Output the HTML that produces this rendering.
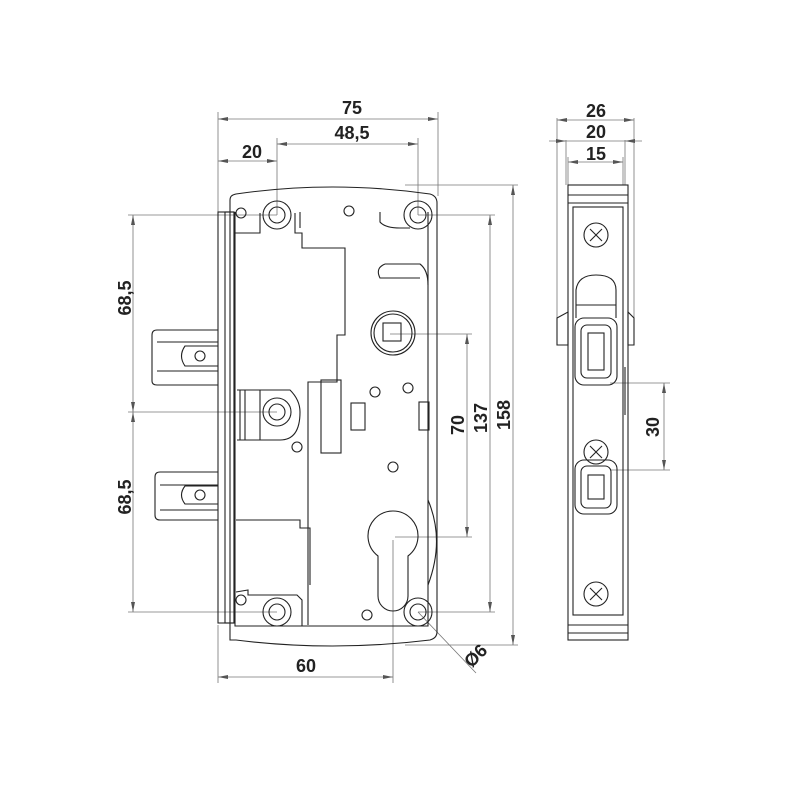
<!DOCTYPE html>
<html><head><meta charset="utf-8"><style>
html,body{margin:0;padding:0;background:#fff}
svg{display:block}
text{font-family:"Liberation Sans",Arial,sans-serif;font-weight:bold;font-size:18px;fill:#222}
</style></head><body>
<svg width="800" height="800" viewBox="0 0 800 800" xmlns="http://www.w3.org/2000/svg">
<defs>
<marker id="a" viewBox="0 0 10 6" refX="10" refY="3" markerWidth="10" markerHeight="6" orient="auto-start-reverse" markerUnits="userSpaceOnUse"><path d="M0,1 L10,3 L0,5z" fill="#555"/></marker>
</defs>
<g fill="none" stroke="#777" stroke-width="0.8">
<line x1="218" y1="112" x2="218" y2="212"/><line x1="438" y1="112" x2="438" y2="196"/>
<line x1="277" y1="138" x2="277" y2="215"/><line x1="418" y1="138" x2="418" y2="215"/>
<line x1="128" y1="215" x2="277" y2="215"/><line x1="128" y1="412" x2="277" y2="412"/><line x1="128" y1="612" x2="277" y2="612"/>
<line x1="405" y1="185" x2="518" y2="185"/><line x1="418" y1="215" x2="495" y2="215"/>
<line x1="390" y1="334" x2="472" y2="334"/><line x1="395" y1="537" x2="472" y2="537"/>
<line x1="418" y1="612" x2="495" y2="612"/><line x1="405" y1="645" x2="518" y2="645"/>
<line x1="218" y1="625" x2="218" y2="683"/><line x1="393" y1="540" x2="393" y2="683"/>
<line x1="418" y1="612" x2="476" y2="673"/>
<line x1="218" y1="119" x2="438" y2="119" marker-start="url(#a)" marker-end="url(#a)"/>
<line x1="277" y1="144" x2="418" y2="144" marker-start="url(#a)" marker-end="url(#a)"/>
<line x1="218" y1="161" x2="277" y2="161" marker-start="url(#a)" marker-end="url(#a)"/>
<line x1="133" y1="215" x2="133" y2="412" marker-start="url(#a)" marker-end="url(#a)"/>
<line x1="133" y1="412" x2="133" y2="612" marker-start="url(#a)" marker-end="url(#a)"/>
<line x1="467" y1="334" x2="467" y2="537" marker-start="url(#a)" marker-end="url(#a)"/>
<line x1="490" y1="215" x2="490" y2="612" marker-start="url(#a)" marker-end="url(#a)"/>
<line x1="513" y1="185" x2="513" y2="645" marker-start="url(#a)" marker-end="url(#a)"/>
<line x1="218" y1="677" x2="393" y2="677" marker-start="url(#a)" marker-end="url(#a)"/>
<line x1="557" y1="118" x2="557" y2="318"/><line x1="634" y1="118" x2="634" y2="318"/>
<line x1="566" y1="140" x2="566" y2="185"/><line x1="625" y1="140" x2="625" y2="185"/>
<line x1="568" y1="157" x2="568" y2="185"/><line x1="623" y1="157" x2="623" y2="185"/>
<line x1="557" y1="120" x2="634" y2="120" marker-start="url(#a)" marker-end="url(#a)"/>
<line x1="549" y1="141" x2="566" y2="141" marker-end="url(#a)"/><line x1="642" y1="141" x2="625" y2="141" marker-end="url(#a)"/><line x1="566" y1="141" x2="625" y2="141"/>
<line x1="568" y1="162" x2="623" y2="162" marker-start="url(#a)" marker-end="url(#a)"/>
<line x1="610" y1="383" x2="670" y2="383"/><line x1="610" y1="470" x2="670" y2="470"/>
<line x1="664" y1="383" x2="664" y2="470" marker-start="url(#a)" marker-end="url(#a)"/>
</g>
<g fill="none" stroke="#222" stroke-width="1.1">
<path d="M230,640 L230,200 Q230,195 236,194 Q332,180 430,194 Q437,196 437,203 L437,632 Q437,638 430,640 Q332,652 236,640 Z"/>
<rect x="218" y="212" width="16" height="411"/>
<rect x="225" y="212" width="9" height="411"/>
<path d="M235,212 L235,626 L428,626 L428,212"/>
<path d="M235,233 L260,233 L260,213 M295,213 L295,233 L302,233 L302,248 L345,248 L345,335 L337,335 L337,382 L308,382 L308,625"/>
<path d="M380,212 L380,222 Q385,228 400,228 L410,228 M300,212 L300,228"/>
<path d="M385,264 L420,264 Q428,270 428,285 M385,264 Q375,268 380,278 L420,278"/>
<path d="M237,390 L290,390 Q300,400 300,412 Q300,440 280,440 L237,440"/>
<path d="M240,390 L240,440 M245,390 L245,440 M260,390 L260,440"/>
<rect x="321" y="380" width="20" height="73"/>
<rect x="351" y="403" width="14" height="27"/>
<rect x="419" y="402" width="10" height="28"/>
<path d="M236,520 L300,520 L300,528 L310,528 L310,585"/>
<path d="M236,592 L248,590 L248,595 L253,595 L297,595 L302,600 L302,626"/>
<path d="M378,556 A25,25 0 1,1 408,556 L408,596 A15,15 0 0,1 378,596 Z"/>
<path d="M428,500 Q445,540 428,585"/>
<circle cx="277" cy="215" r="14"/><circle cx="277" cy="215" r="8"/>
<circle cx="418" cy="215" r="14"/><circle cx="418" cy="215" r="8"/>
<circle cx="277" cy="612" r="14"/><circle cx="277" cy="612" r="8"/>
<circle cx="418" cy="612" r="14"/><circle cx="418" cy="612" r="8"/>
<circle cx="277" cy="412" r="14"/><circle cx="277" cy="412" r="8"/>
<circle cx="241" cy="213" r="5"/><circle cx="241" cy="600" r="5"/>
<circle cx="349" cy="211" r="5"/><circle cx="297" cy="447" r="5"/>
<circle cx="408" cy="388" r="5"/><circle cx="375" cy="392" r="5"/>
<circle cx="393" cy="467" r="5"/><circle cx="367" cy="615" r="5"/>
<circle cx="393" cy="333" r="22"/><circle cx="393" cy="333" r="19"/>
<rect x="383" y="323" width="18" height="18"/>
<path d="M218,330 L157,330 Q152,330 152,335 L152,381 Q152,385 157,385 L218,385"/>
<path d="M157,342 L218,342 M157,371 L218,371"/>
<path d="M218,346 L185,346 Q178,356 185,366 L218,366"/><circle cx="200" cy="356" r="5"/>
<path d="M218,472 L160,472 Q155,472 155,477 L155,515 Q155,520 160,520 L218,520"/>
<path d="M160,485 L218,485 M160,510 L218,510"/>
<path d="M218,486 L185,486 Q178,495 185,504 L218,504"/><circle cx="200" cy="495" r="5"/>
<rect x="568" y="185" width="60" height="455"/>
<rect x="573" y="207" width="50" height="408"/>
<line x1="568" y1="195" x2="628" y2="195"/><line x1="568" y1="203" x2="628" y2="203"/>
<line x1="568" y1="625" x2="628" y2="625"/><line x1="568" y1="633" x2="628" y2="633"/>
<path d="M557,318 L568,312 L568,345 L557,345 Z M634,318 L628,312 L628,345 L634,345 Z"/>
<path d="M576,318 L576,290 Q578,275 596,275 Q616,275 616,290 L616,318"/>
<line x1="576" y1="305" x2="616" y2="305"/>
<rect x="575" y="318" width="42" height="67" rx="9"/>
<rect x="581" y="325" width="30" height="53" rx="6"/>
<rect x="588" y="333" width="16" height="37"/>
<rect x="575" y="460" width="42" height="54" rx="9"/>
<rect x="581" y="466" width="30" height="42" rx="6"/>
<rect x="588" y="475" width="16" height="24"/>
<circle cx="596" cy="235" r="12"/><path d="M590,229 L602,241 M602,229 L590,241"/>
<circle cx="596" cy="452" r="12"/><path d="M590,446 L602,458 M602,446 L590,458"/>
<circle cx="596" cy="594" r="12"/><path d="M590,588 L602,600 M602,588 L590,600"/>
<line x1="625" y1="367" x2="625" y2="415"/>
</g>
<text x="352" y="114" text-anchor="middle">75</text>
<text x="352" y="139" text-anchor="middle">48,5</text>
<text x="252" y="158" text-anchor="middle">20</text>
<text x="306" y="672" text-anchor="middle">60</text>
<text transform="translate(131,298) rotate(-90)" text-anchor="middle">68,5</text>
<text transform="translate(131,497) rotate(-90)" text-anchor="middle">68,5</text>
<text transform="translate(464,425) rotate(-90)" text-anchor="middle">70</text>
<text transform="translate(487,418) rotate(-90)" text-anchor="middle">137</text>
<text transform="translate(510,415) rotate(-90)" text-anchor="middle">158</text>
<text transform="translate(480,660) rotate(-45)" text-anchor="middle">Ø6</text>
<text x="596" y="117" text-anchor="middle">26</text>
<text x="596" y="138" text-anchor="middle">20</text>
<text x="596" y="160" text-anchor="middle">15</text>
<text transform="translate(659,427) rotate(-90)" text-anchor="middle">30</text>
</svg>
</body></html>
